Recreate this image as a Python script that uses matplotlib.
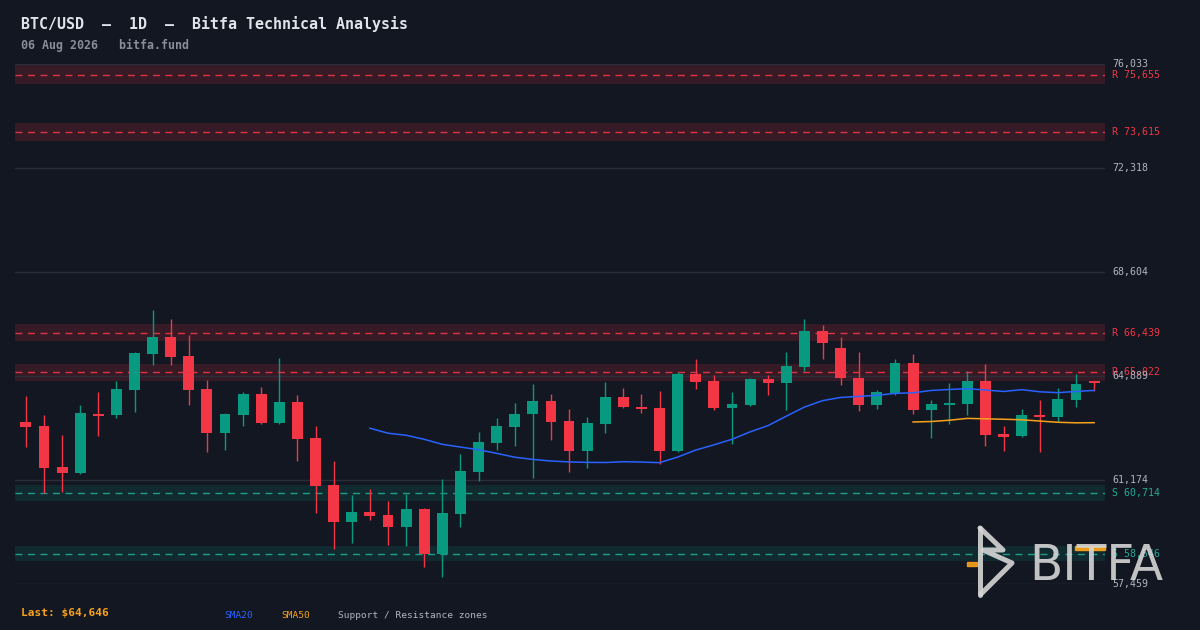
import matplotlib
matplotlib.use('Agg')
import matplotlib.pyplot as plt
import matplotlib.transforms as mtransforms
import numpy as np
import pandas as pd

# daily candles
opens = [63249, 63106, 61640, 61426, 63535, 63499, 64392, 65679, 66287, 65608,
         64428, 62856, 63499, 64249, 63213, 63964, 62677, 60996, 59674, 60031,
         59925, 59496, 60139, 58531, 59960, 61462, 62498, 63070, 63535, 63999,
         63285, 62212, 63177, 64142, 63785, 63749, 62212, 64964, 64714, 63749,
         63856, 64785, 64643, 65215, 66501, 65894, 64821, 63856, 64285, 65357,
         63678, 63856, 63892, 64714, 62820, 62748, 63499, 63427, 64035, 64690]
highs = [64178, 63499, 62784, 63856, 64321, 64714, 65750, 67252, 66930, 66358,
         64750, 63570, 64321, 64500, 65536, 64214, 63106, 61855, 60640, 60854,
         60425, 60675, 60175, 61212, 62105, 62891, 63392, 63928, 64607, 64249,
         63713, 63427, 64678, 64464, 64249, 64356, 65036, 65500, 64929, 64321,
         64821, 64929, 65750, 66930, 66716, 66287, 65750, 64392, 65500, 65679,
         64035, 64643, 65072, 65322, 63106, 63713, 64035, 64464, 64964, 64720]
lows = [62366, 60722, 60758, 61400, 62748, 63392, 63606, 65286, 65286, 63856,
        62176, 62248, 63106, 63177, 63177, 61855, 59996, 58709, 58924, 59746,
        58853, 58817, 58067, 57708, 59496, 61140, 62248, 62391, 61247, 62605,
        61462, 61605, 62856, 63749, 63570, 61748, 62176, 64428, 63678, 62462,
        63821, 64214, 63678, 65072, 65500, 64571, 63642, 63713, 64214, 63535,
        62677, 63177, 63499, 62391, 62212, 62713, 62176, 63249, 63785, 64356]
closes = [63070, 61605, 61426, 63570, 63463, 64428, 65715, 66287, 65572, 64392,
          62856, 63535, 64249, 63213, 63964, 62641, 60961, 59674, 60031, 59888,
          59496, 60139, 58531, 59996, 61497, 62534, 63106, 63535, 63999, 63249,
          62212, 63213, 64142, 63785, 63713, 62212, 64964, 64678, 63749, 63892,
          64785, 64643, 65250, 66501, 66072, 64821, 63856, 64321, 65357, 63678,
          63892, 63928, 64714, 62784, 62713, 63499, 63427, 64071, 64607, 64646]

resistance = [75655, 73615, 66439, 65022]
support = [60714, 58546]
y_ticks = [57459, 61174, 64889, 68604, 72318, 76033]

title = 'BTC/USD  \u2014  1D  \u2014  Bitfa Technical Analysis'
subtitle = '06 Aug 2026   bitfa.fund'
last_price = 64646

BG = '#131722'
UP = '#089981'
DOWN = '#f23645'
SUP = '#22ab94'
GRID = '#2a2e39'
TXT = '#b2b5be'
SMA20_C = '#2962ff'
SMA50_C = '#f7a21b'

plt.rcParams['font.family'] = ['DejaVu Sans Mono']

fig = plt.figure(figsize=(12, 6.3), dpi=100, facecolor=BG)
ax = fig.add_axes([15 / 1200, 1 - 584 / 630, 1090 / 1200, (584 - 64.3) / 630])
ax.set_facecolor(BG)
for s in ax.spines.values():
    s.set_visible(False)
ax.set_xticks([])
ax.set_yticks([])

n = len(closes)
x = np.arange(n)
o = np.array(opens)
c = np.array(closes)
up = c >= o
cols = [UP if u else DOWN for u in up]

ax.set_xlim(-0.6, n - 0.4)
ax.set_ylim(min(y_ticks), max(y_ticks))

# grid
for t in y_ticks:
    ax.axhline(t, color=GRID, lw=1.0, zorder=1)

# zones
trans = mtransforms.blended_transform_factory(ax.transAxes, ax.transData)
for lvl in resistance:
    ax.axhspan(lvl * 0.9955, lvl * 1.0045, color=DOWN, alpha=0.16, lw=0, zorder=0)
    ax.axhline(lvl, color=DOWN, lw=1.0, ls=(0, (5, 4)), alpha=0.9, zorder=2)
    ax.text(1.0064, lvl, 'R {:,}'.format(lvl), transform=trans, color=DOWN,
            fontsize=7.1, va='center', ha='left', clip_on=False)
for lvl in support:
    ax.axhspan(lvl * 0.9955, lvl * 1.0045, color=UP, alpha=0.15, lw=0, zorder=0)
    ax.axhline(lvl, color=SUP, lw=1.0, ls=(0, (5, 4)), alpha=0.9, zorder=2)
    ax.text(1.0064, lvl, 'S {:,}'.format(lvl), transform=trans, color=SUP,
            fontsize=7.1, va='center', ha='left', clip_on=False)

for t in y_ticks:
    ax.text(1.0064, t, '{:,}'.format(t), transform=trans, color=TXT,
            fontsize=7.1, va='center', ha='left', clip_on=False)

# candles
ax.vlines(x, lows, highs, colors=cols, lw=1.0, zorder=3)
body_lo = np.minimum(o, c)
body_h = np.maximum(np.abs(c - o), 55)
ax.bar(x, body_h, bottom=body_lo, width=0.6, color=cols, lw=0, zorder=4)

# moving averages
sma20 = pd.Series(closes).rolling(20).mean()
sma50 = pd.Series(closes).rolling(50).mean()
ax.plot(x, sma20, color=SMA20_C, lw=1.1, zorder=5)
ax.plot(x, sma50, color=SMA50_C, lw=1.1, zorder=5)

# header
fig.text(21 / 1200, 1 - 24 / 630, title, color='#e1e3ea', fontsize=10.8,
         fontweight='bold', va='center', ha='left')
fig.text(21 / 1200, 1 - 45 / 630, subtitle, color='#8a8e99', fontsize=8.4,
         fontweight='bold', va='center', ha='left')

# footer
fig.text(21 / 1200, 1 - 613 / 630, 'Last: ${:,}'.format(last_price), color=SMA50_C,
         fontsize=8.0, fontweight='bold', va='center', ha='left')
fig.text(224 / 1200, 1 - 615 / 630, 'SMA20', color=SMA20_C, fontsize=6.8,
         va='center', ha='left')
fig.text(281 / 1200, 1 - 615 / 630, 'SMA50', color=SMA50_C, fontsize=6.8,
         va='center', ha='left')
fig.text(338 / 1200, 1 - 615 / 630, 'Support / Resistance zones', color=TXT,
         fontsize=6.8, va='center', ha='left')

# watermark logo
ov = fig.add_axes([0, 0, 1, 1], zorder=10)
ov.set_xlim(0, 1200)
ov.set_ylim(630, 0)
ov.axis('off')
ov.patch.set_alpha(0)
logo_c = '#d6d6d6'
ov.plot([980, 980], [528, 595], color=logo_c, lw=3.6, alpha=0.9, solid_capstyle='round')
ov.plot([980, 1003, 983, 1012, 981], [528, 550, 550, 563, 594], color=logo_c, lw=3.6,
        alpha=0.9, solid_capstyle='round', solid_joinstyle='round')
ov.add_patch(plt.Rectangle((967, 562), 10, 4, color=SMA50_C, alpha=0.9))
ov.text(1029, 580, 'BITFA', color=logo_c, alpha=0.9, fontsize=35,
        family='DejaVu Sans', va='baseline', ha='left')
ov.add_patch(plt.Rectangle((1075, 546), 30, 4, color=SMA50_C, alpha=0.95))

fig.savefig('out.png', dpi=100, facecolor=BG)
